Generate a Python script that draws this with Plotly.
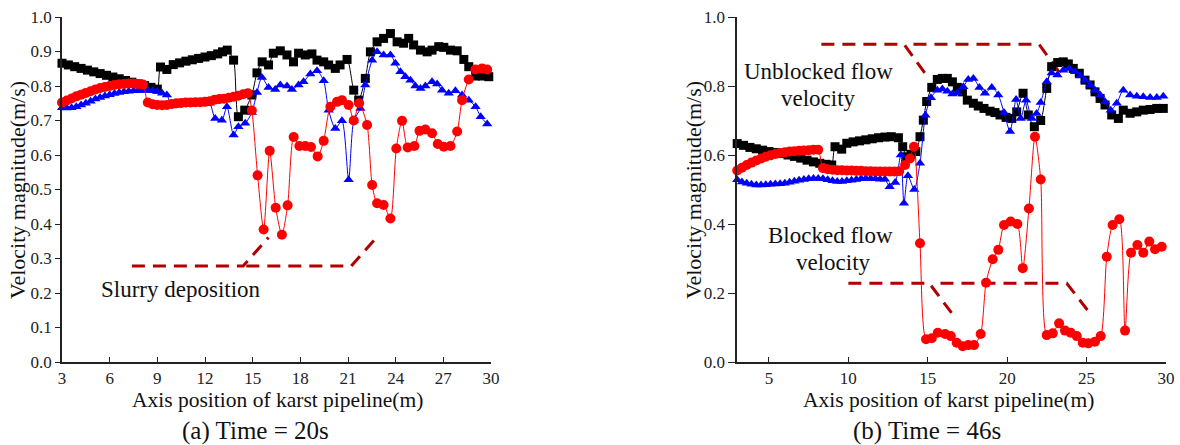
import plotly.graph_objects as go

# ---------------- data: panel (a) Time = 20 s ----------------
a_black_x = [3.0,3.4,3.8,4.2,4.6,5.0,5.4,5.8,6.2,6.6,7.0,7.4,7.8,8.2,8.6,9.0,9.2,9.6,10.0,10.4,
             10.8,11.2,11.6,12.0,12.4,12.8,13.1,13.4,13.8,14.1,14.5,14.95,15.27,15.6,16.0,16.3,16.74,17.16,17.57,17.89,
             18.31,18.73,19.05,19.47,19.78,20.2,20.5,20.94,21.36,21.67,22.09,22.41,22.83,23.24,23.67,24.09,24.5,24.82,25.13,25.56,
             25.98,26.29,26.71,27.03,27.45,27.87,28.29,28.6,29.03,29.45,29.86]
a_black_v = [.866,.861,.856,.851,.846,.841,.836,.831,.826,.821,.816,.811,.806,.801,.796,.791,.855,.848,.862,.867,
             .872,.876,.880,.884,.888,.893,.899,.904,.875,.711,.730,.774,.838,.870,.861,.895,.902,.890,.870,.895,
             .890,.893,.875,.870,.861,.851,.861,.877,.788,.759,.822,.899,.928,.938,.952,.928,.924,.938,.919,.904,
             .899,.904,.914,.912,.904,.902,.877,.856,.829,.829,.827]

a_blue_x = [3.0,3.3,3.6,3.9,4.2,4.5,4.8,5.1,5.4,5.7,6.0,6.3,6.6,6.9,7.2,7.5,7.8,8.1,8.4,8.7,
            9.0,9.3,9.6,9.9,10.2,10.5,10.8,11.1,11.4,11.7,12.0,12.3,
            12.64,13.06,13.38,13.8,14.1,14.53,14.95,15.27,15.58,16.0,
            16.42,16.74,17.16,17.47,17.89,18.2,18.63,19.05,19.47,19.78,
            20.2,20.62,21.04,21.36,21.78,22.09,22.52,22.83,23.24,23.67,
            23.98,24.3,24.61,24.93,25.24,25.56,25.87,26.29,26.61,26.92,
            27.34,27.76,28.18,28.6,29.03,29.35,29.76]
a_blue_v = [.737,.736,.737,.740,.745,.750,.756,.762,.767,.771,.775,.778,.781,.783,.785,.786,.787,.787,.787,.786,
            .784,.779,.774,.742,.744,.746,.747,.748,.749,.750,.750,.750,
            .706,.701,.740,.658,.682,.692,.723,.781,.825,.796,
            .790,.803,.800,.790,.803,.812,.835,.844,.815,.730,
            .677,.699,.528,.699,.735,.803,.875,.899,.890,.890,
            .866,.841,.827,.817,.800,.793,.800,.812,.806,.788,
            .779,.786,.774,.759,.740,.711,.690]

a_red_x = [3.0,3.3,3.6,3.9,4.2,4.5,4.8,5.1,5.4,5.7,6.0,6.3,6.6,6.9,7.2,7.5,7.8,8.1,8.4,8.7,
           9.0,9.3,9.6,9.9,10.2,10.5,10.8,11.1,11.4,11.7,12.0,12.3,12.6,12.9,13.2,13.5,13.8,14.1,14.4,14.7,
           14.95,15.31,15.69,16.07,16.45,16.84,17.2,17.58,17.94,18.31,
           18.67,19.09,19.47,19.89,20.31,20.62,21.04,21.36,21.7,22.2,
           22.52,22.83,23.24,23.67,24.04,24.4,24.76,25.18,25.5,25.87,
           26.29,26.65,27.03,27.45,27.87,28.18,28.6,29.02,29.44,29.76]
a_red_v = [.752,.758,.764,.770,.775,.780,.785,.790,.794,.797,.800,.803,.805,.806,.807,.807,.806,.804,.752,.747,
           .745,.744,.745,.748,.750,.751,.752,.752,.753,.753,.754,.756,.760,.762,.763,.766,.769,.772,.776,.779,
           .729,.541,.384,.612,.447,.369,.454,.652,.626,.626,
           .623,.596,.641,.740,.754,.759,.745,.700,.750,.687,
           .513,.460,.455,.416,.619,.699,.622,.626,.670,.674,
           .663,.632,.624,.626,.668,.759,.819,.848,.851,.848]

# ---------------- data: panel (b) Time = 46 s ----------------
b_black_x = [3.0,3.4,3.8,4.2,4.6,5.0,5.4,5.8,6.2,6.6,7.0,7.4,7.8,8.2,8.6,8.95,
             9.16,9.58,9.9,10.3,10.7,11.1,11.5,11.9,12.3,12.7,
             13.15,13.42,13.67,13.95,14.25,14.51,14.72,14.93,15.25,15.6,
             15.92,16.23,16.55,16.86,17.18,17.49,17.87,18.18,18.54,18.92,
             19.23,19.55,19.93,20.29,20.6,21.0,21.33,21.71,22.11,22.49,
             22.8,23.18,23.53,23.85,24.16,24.54,24.9,25.22,25.53,25.85,
             26.16,26.58,27.0,27.31,27.74,28.16,28.57,29.0,29.42,29.83]
b_black_v = [.633,.628,.622,.618,.614,.610,.607,.604,.600,.596,.591,.585,.580,.576,.573,.571,
             .624,.617,.634,.638,.641,.644,.647,.650,.652,.653,
             .650,.624,.595,.602,.610,.653,.701,.755,.796,.819,
             .822,.822,.812,.796,.783,.759,.750,.742,.735,.727,
             .723,.716,.709,.706,.725,.779,.716,.682,.700,.793,
             .856,.868,.870,.864,.851,.837,.817,.803,.783,.764,
             .745,.716,.706,.730,.721,.725,.730,.732,.735,.735]

b_blue_x = [3.0,3.3,3.6,3.9,4.2,4.5,4.8,5.1,5.4,5.7,6.0,6.3,6.6,6.9,7.2,7.5,7.8,8.1,8.4,8.7,
            9.0,9.3,9.6,9.9,10.2,10.5,10.8,11.1,11.4,11.7,12.0,12.3,
            12.6,12.95,13.3,13.5,13.75,14.15,14.51,14.85,15.2,15.6,
            15.92,16.23,16.55,16.86,17.24,17.55,17.87,18.25,18.6,19.03,
            19.44,19.8,20.18,20.56,20.85,21.19,21.55,21.85,22.11,22.49,
            22.8,23.16,23.53,23.91,24.27,24.59,24.9,25.22,25.53,25.85,
            26.16,26.52,26.9,27.31,27.74,28.16,28.57,29.0,29.42,29.83]
b_blue_v = [.528,.522,.518,.515,.513,.513,.514,.515,.516,.517,.518,.521,.524,.527,.529,.531,.532,.532,.531,.528,
            .525,.523,.523,.525,.527,.529,.531,.532,.532,.531,.530,.530,
            .508,.520,.600,.460,.540,.500,.576,.715,.766,.788,
            .791,.785,.777,.780,.798,.819,.822,.796,.779,.796,
            .774,.723,.668,.761,.706,.759,.706,.720,.752,.812,
            .838,.832,.846,.851,.841,.829,.817,.803,.788,.774,
            .754,.730,.750,.788,.774,.770,.769,.767,.767,.770]

b_red_x = [3.0,3.3,3.6,3.9,4.2,4.5,4.8,5.1,5.4,5.7,6.0,6.3,6.6,6.9,7.2,7.5,7.8,8.1,
           8.4,8.7,9.0,9.3,9.6,9.9,10.2,10.5,10.8,11.1,11.4,11.7,12.0,12.3,12.6,12.9,13.2,
           13.57,13.88,14.13,14.51,14.89,15.25,15.63,16.09,16.45,16.82,
           17.2,17.55,17.91,18.33,18.67,19.09,19.44,19.8,20.22,20.64,
           20.98,21.37,21.75,22.11,22.49,22.87,23.27,23.64,24.0,24.38,
           24.76,25.11,25.53,25.89,26.27,26.64,27.06,27.42,27.8,28.2,
           28.57,28.95,29.31,29.73]
b_red_v = [.555,.563,.571,.578,.584,.590,.595,.599,.603,.606,.608,.610,.611,.612,.613,.614,.615,.615,
           .562,.559,.557,.556,.556,.555,.555,.554,.554,.553,.553,.552,.552,.552,.552,.552,.553,
           .571,.590,.624,.344,.066,.069,.085,.081,.075,.056,
           .046,.049,.049,.081,.230,.298,.325,.397,.407,.400,
           .272,.445,.653,.529,.078,.083,.112,.091,.085,.075,
           .056,.054,.059,.075,.305,.397,.414,.091,.317,.339,
           .317,.349,.327,.334]

# annotation guide lines (dashed, in data units)
a_guide1_x = [7.4, 14.4, 16.0]
a_guide1_v = [0.278, 0.278, 0.361]
a_guide2_x = [14.6, 21.2, 22.8]
a_guide2_v = [0.278, 0.278, 0.361]
b_guide1_x = [8.3, 13.5, 14.9]
b_guide1_v = [0.921, 0.921, 0.832]
b_guide2_x = [14.1, 22.0, 23.4]
b_guide2_v = [0.921, 0.921, 0.832]
b_guide3_x = [10.0, 15.1, 16.6]
b_guide3_v = [0.228, 0.228, 0.136]
b_guide4_x = [15.8, 23.75, 25.3]
b_guide4_v = [0.228, 0.228, 0.136]

a_xticks = [3, 6, 9, 12, 15, 18, 21, 24, 27, 30]
b_xticks = [5, 10, 15, 20, 25, 30]

FONT = "Liberation Serif, Times New Roman, serif"
W, H = 1180, 445
GUIDE = "#b00000"

fig = go.Figure()

def add_series(x, y, color, symbol, size, xa, ya):
    fig.add_trace(go.Scatter(
        x=x, y=y, mode="lines+markers", xaxis=xa, yaxis=ya,
        line=dict(color=color, width=1, shape="spline", smoothing=0.7),
        marker=dict(color=color, symbol=symbol, size=size, line=dict(width=0)),
        cliponaxis=False, showlegend=False, hoverinfo="skip"))

def add_guide(x, y, xa, ya):
    fig.add_trace(go.Scatter(
        x=x, y=y, mode="lines", xaxis=xa, yaxis=ya,
        line=dict(color=GUIDE, width=3, dash="13px,8px"),
        showlegend=False, hoverinfo="skip"))

for gx, gy in [(a_guide1_x, a_guide1_v), (a_guide2_x, a_guide2_v)]:
    add_guide(gx, gy, "x", "y")
for gx, gy in [(b_guide1_x, b_guide1_v), (b_guide2_x, b_guide2_v),
               (b_guide3_x, b_guide3_v), (b_guide4_x, b_guide4_v)]:
    add_guide(gx, gy, "x2", "y2")

add_series(a_black_x, a_black_v, "#000000", "square", 9, "x", "y")
add_series(a_blue_x, a_blue_v, "#0000ff", "triangle-up", 9, "x", "y")
add_series(a_red_x, a_red_v, "#ff0000", "circle", 10, "x", "y")
add_series(b_black_x, b_black_v, "#000000", "square", 9, "x2", "y2")
add_series(b_blue_x, b_blue_v, "#0000ff", "triangle-up", 9, "x2", "y2")
add_series(b_red_x, b_red_v, "#ff0000", "circle", 10, "x2", "y2")

ydom = [(H - 362) / H, (H - 17) / H]
tickfont = dict(family=FONT, size=17, color="#222")
axis_common = dict(showgrid=False, zeroline=False, showline=True, linecolor="#222",
                   linewidth=1.5, tickcolor="#222", tickfont=tickfont, automargin=False)

fig.update_layout(
    template="none",
    width=W, height=H, margin=dict(l=0, r=0, t=0, b=0, autoexpand=False),
    paper_bgcolor="white", plot_bgcolor="white",
    font=dict(family=FONT, color="#111"),
    xaxis=dict(domain=[62 / W, 491 / W], range=[3, 30], anchor="y",
               tickvals=a_xticks, ticks="inside", ticklen=5, **axis_common),
    yaxis=dict(domain=ydom, range=[0, 1], anchor="x", dtick=0.1, tickformat=".1f",
               ticks="outside", ticklen=5, **axis_common),
    xaxis2=dict(domain=[737.2 / W, 1166 / W], range=[3, 30], anchor="y2",
                tickvals=b_xticks, ticks="inside", ticklen=5, **axis_common),
    yaxis2=dict(domain=ydom, range=[0, 1], anchor="x2", dtick=0.2, tickformat=".1f",
                ticks="outside", ticklen=7, **axis_common),
)

def paper_ann(text, px, py, size, angle=0):
    fig.add_annotation(text=text, x=px / W, y=(H - py) / H, xref="paper", yref="paper",
                       xanchor="center", yanchor="middle", showarrow=False, textangle=angle,
                       font=dict(family=FONT, size=size, color="#111"))

# axis titles and captions
paper_ann("Axis position of karst pipeline(m)", 277, 400, 21.5)
paper_ann("Axis position of karst pipeline(m)", 948, 400, 21.5)
paper_ann("(a) Time = 20s", 255, 431, 25)
paper_ann("(b) Time = 46s", 927, 431, 25)
paper_ann("Velocity magnitude(m/s)", 17, 190, 22, -90)
paper_ann("Velocity magnitude(m/s)", 693, 190, 22, -90)

def data_ann(text, x, y, xa, ya, size=23):
    fig.add_annotation(text=text, x=x, y=y, xref=xa, yref=ya, xanchor="center", yanchor="middle",
                       showarrow=False, font=dict(family=FONT, size=size, color="#111"))

data_ann("Slurry deposition", 10.47, 0.209, "x", "y")
data_ann("Unblocked flow", 8.15, 0.842, "x2", "y2")
data_ann("velocity", 8.15, 0.765, "x2", "y2")
data_ann("Blocked flow", 8.9, 0.368, "x2", "y2")
data_ann("velocity", 9.05, 0.287, "x2", "y2")

fig.write_html("out.html")
